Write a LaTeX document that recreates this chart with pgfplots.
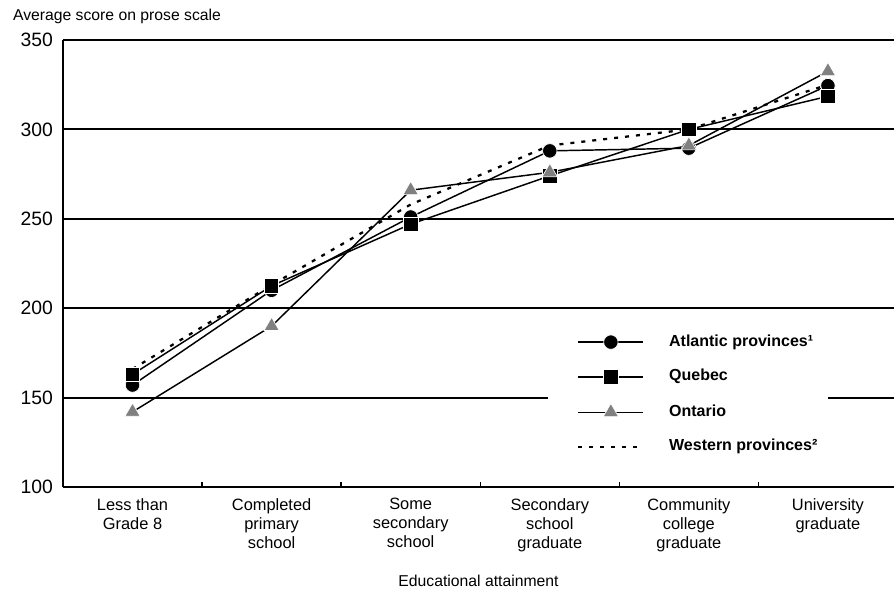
\documentclass[border=0pt]{standalone}
\usepackage{pgfplots}
\pgfplotsset{compat=1.18}
\usepackage{fontspec}
\setmainfont{Liberation Sans}
\definecolor{ontgray}{RGB}{128,128,128}
\begin{document}
\begin{tikzpicture}
\begin{axis}[
 at={(0,0)}, anchor=south west,
 width=623.25pt, height=335.25pt, scale only axis,
 xmin=-0.5, xmax=5.475, ymin=100, ymax=350,
 axis x line=bottom, axis y line=left,
 axis line style={-, line width=1.4pt},
 xtick={0,1,2,3,4,5},
 xticklabels={{Less than\\Grade 8},{Completed\\primary\\school},{Some\\secondary\\school},{Secondary\\school\\graduate},{Community\\college\\graduate},{University\\graduate}},
 x tick label style={align=center, font=\fontsize{12.3}{14.25}\selectfont, yshift=-5pt},
 major x tick style={draw=none},
 minor xtick={0.5,1.5,2.5,3.5,4.5},
 minor tick length=4pt,
 tick align=inside,
 minor x tick style={line width=1pt, black},
 ytick={100,150,200,250,300,350},
 major y tick style={draw=none},
 y tick label style={font=\fontsize{14.5}{16}\selectfont, xshift=-4pt},
 extra y ticks={200,250,300,350},
 extra y tick labels={},
 extra y tick style={grid=major, major tick length=0pt},
 major grid style={line width=1.4pt, black},
 /pgf/number format/assume math mode=true,
 xlabel={Educational attainment},
 xlabel style={at={(rel axis cs:0.5,0)}, anchor=center, yshift=-70.5pt, font=\fontsize{11.8}{13}\selectfont},
 ylabel={Average score on prose scale},
 ylabel style={rotate=-90, at={(rel axis cs:0,1)}, anchor=base west, xshift=-41pt, yshift=14.25pt, font=\fontsize{11.8}{13}\selectfont},
 clip=false,
 legend style={at={(rel axis cs:0.6185,0.2069)}, anchor=west, draw=none, fill=none, inner sep=0pt,
   font=\bfseries\fontsize{12}{14}\selectfont, row sep=14pt, column sep=18.5pt,
   nodes={inner sep=0pt, text height=9pt, text depth=3pt}},
 legend cell align=left,
 legend image code/.code={\draw[mark repeat=2, mark phase=2, #1] plot coordinates {(0pt,0pt) (24.375pt,0pt) (48.75pt,0pt)};},
]
\draw[line width=1.4pt, black] (axis cs:-0.5,150) -- (axis cs:2.986,150);
\draw[line width=1.4pt, black] (axis cs:5.0,150) -- (axis cs:5.475,150);
\addplot[black, line width=1.1pt, mark=*, mark size=5.4pt, mark options={solid, fill=black, draw=white, line width=0.5pt}]
 coordinates {(0,157) (1,210) (2,251) (3,288) (4,289.5) (5,324.5)};
\addlegendentry{Atlantic provinces¹}
\addplot[black, line width=1.1pt, mark=square*, mark size=5.4pt, mark options={solid, fill=black, draw=white, line width=0.5pt}]
 coordinates {(0,163) (1,212.5) (2,247) (3,274) (4,300) (5,318.5)};
\addlegendentry{Quebec}
\addplot[black, line width=1.1pt, mark=triangle*, mark size=6.6pt, mark options={solid, fill=ontgray, draw=white, line width=0.5pt}]
 coordinates {(0,142) (1,190) (2,266) (3,276) (4,291) (5,332.5)};
\addlegendentry{Ontario}
\addplot[black, line width=1.7pt, dash pattern=on 3pt off 5.25pt]
 coordinates {(0,166) (1,213) (2,258) (3,291) (4,300) (5,325)};
\addlegendentry{Western provinces²}
\end{axis}
\pgfresetboundingbox
\path[use as bounding box] (-47.25pt,-81.75pt) rectangle (623.25pt,365.25pt);
\end{tikzpicture}
\end{document}
